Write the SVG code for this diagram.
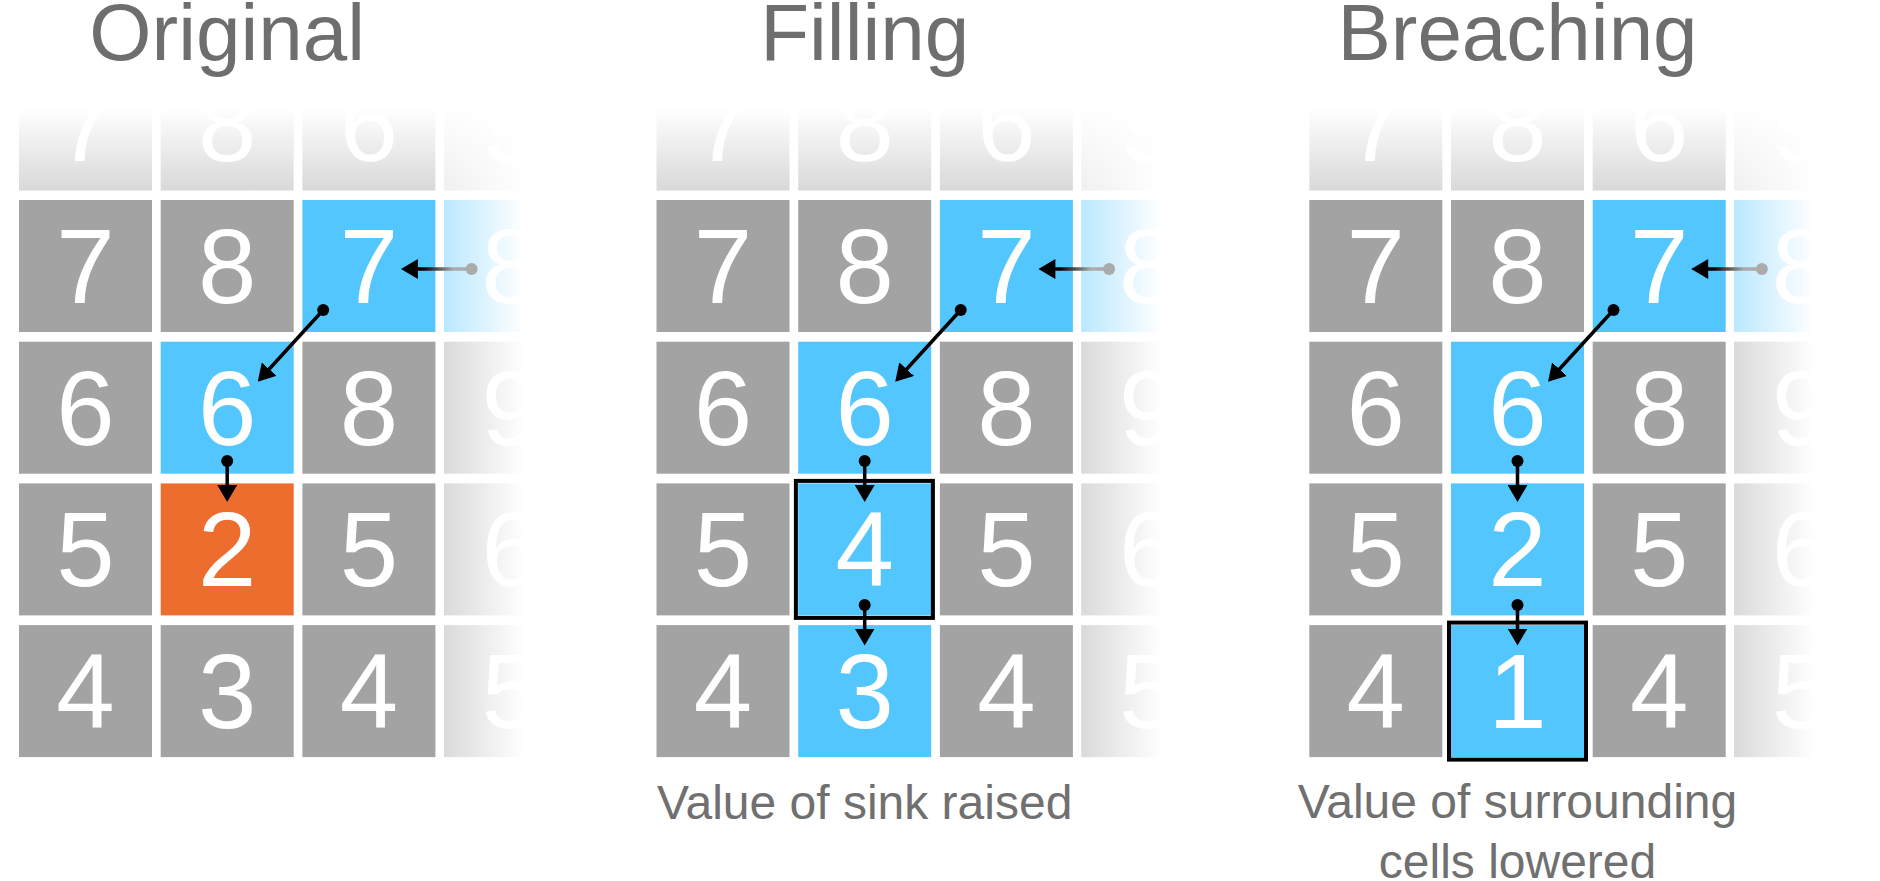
<svg xmlns="http://www.w3.org/2000/svg" width="1880" height="881" viewBox="0 0 1880 881">
<defs>
<style>
.g{fill:#a3a3a3}.b{fill:#54c6fe}.o{fill:#ec6d2e}
.cell text{font-family:"Liberation Sans",Arial,sans-serif;font-size:105px;fill:#fff;text-anchor:middle}
.title{font-family:"Liberation Sans",Arial,sans-serif;font-size:80px;fill:#6e6e6e;text-anchor:middle}
.cap{font-family:"Liberation Sans",Arial,sans-serif;font-size:48px;fill:#707070;text-anchor:middle}
.ln{stroke:#000;stroke-width:3.5;fill:none;marker-end:url(#ah)}
.dot{fill:#000}
.box{fill:none;stroke:#000;stroke-width:4}
</style>
<marker id="ah" viewBox="0 0 17 20" refX="7" refY="10" markerWidth="17" markerHeight="20" markerUnits="userSpaceOnUse" orient="auto"><path d="M0,0 L17,10 L0,20 Z" fill="#000"/></marker>
<linearGradient id="fadeTop" x1="0" y1="0" x2="0" y2="1"><stop offset="0" stop-color="#fff" stop-opacity="1"/><stop offset="0.38" stop-color="#fff" stop-opacity="1"/><stop offset="1" stop-color="#fff" stop-opacity="0.58"/></linearGradient>
<linearGradient id="fadeRight" x1="0" y1="0" x2="1" y2="0"><stop offset="0" stop-color="#fff" stop-opacity="0.6"/><stop offset="0.55" stop-color="#fff" stop-opacity="1"/><stop offset="1" stop-color="#fff" stop-opacity="1"/></linearGradient>
<linearGradient id="hline" x1="0" y1="0" x2="1" y2="0"><stop offset="0" stop-color="#000"/><stop offset="0.2" stop-color="#000"/><stop offset="0.7" stop-color="#ababab"/><stop offset="1" stop-color="#ababab"/></linearGradient>
</defs>
<rect width="1880" height="881" fill="#fff"/>

<g id="panel-original" transform="translate(19,0)">
<g id="p1-r0c0" class="cell"><rect class="g" x="0" y="58.3" width="133" height="132"/><text x="66.5" y="161.3">7</text></g>
<g id="p1-r0c1" class="cell"><rect class="g" x="141.7" y="58.3" width="133" height="132"/><text x="208.2" y="161.3">8</text></g>
<g id="p1-r0c2" class="cell"><rect class="g" x="283.4" y="58.3" width="133" height="132"/><text x="349.9" y="161.3">6</text></g>
<g id="p1-r0c3" class="cell"><rect class="g" x="425.1" y="58.3" width="133" height="132"/><text x="491.6" y="161.3">9</text></g>
<g id="p1-r1c0" class="cell"><rect class="g" x="0" y="200" width="133" height="132"/><text x="66.5" y="303">7</text></g>
<g id="p1-r1c1" class="cell"><rect class="g" x="141.7" y="200" width="133" height="132"/><text x="208.2" y="303">8</text></g>
<g id="p1-r1c2" class="cell"><rect class="b" x="283.4" y="200" width="133" height="132"/><text x="349.9" y="303">7</text></g>
<g id="p1-r1c3" class="cell"><rect class="b" x="425.1" y="200" width="133" height="132"/><text x="491.6" y="303">8</text></g>
<g id="p1-r2c0" class="cell"><rect class="g" x="0" y="341.7" width="133" height="132"/><text x="66.5" y="444.7">6</text></g>
<g id="p1-r2c1" class="cell"><rect class="b" x="141.7" y="341.7" width="133" height="132"/><text x="208.2" y="444.7">6</text></g>
<g id="p1-r2c2" class="cell"><rect class="g" x="283.4" y="341.7" width="133" height="132"/><text x="349.9" y="444.7">8</text></g>
<g id="p1-r2c3" class="cell"><rect class="g" x="425.1" y="341.7" width="133" height="132"/><text x="491.6" y="444.7">9</text></g>
<g id="p1-r3c0" class="cell"><rect class="g" x="0" y="483.4" width="133" height="132"/><text x="66.5" y="586.4">5</text></g>
<g id="p1-r3c1" class="cell"><rect class="o" x="141.7" y="483.4" width="133" height="132"/><text x="208.2" y="586.4">2</text></g>
<g id="p1-r3c2" class="cell"><rect class="g" x="283.4" y="483.4" width="133" height="132"/><text x="349.9" y="586.4">5</text></g>
<g id="p1-r3c3" class="cell"><rect class="g" x="425.1" y="483.4" width="133" height="132"/><text x="491.6" y="586.4">6</text></g>
<g id="p1-r4c0" class="cell"><rect class="g" x="0" y="625.1" width="133" height="132"/><text x="66.5" y="728.1">4</text></g>
<g id="p1-r4c1" class="cell"><rect class="g" x="141.7" y="625.1" width="133" height="132"/><text x="208.2" y="728.1">3</text></g>
<g id="p1-r4c2" class="cell"><rect class="g" x="283.4" y="625.1" width="133" height="132"/><text x="349.9" y="728.1">4</text></g>
<g id="p1-r4c3" class="cell"><rect class="g" x="425.1" y="625.1" width="133" height="132"/><text x="491.6" y="728.1">5</text></g>
<rect x="-5" y="58" width="578" height="132.5" fill="url(#fadeTop)"/>
<rect x="425.1" y="58" width="145" height="702" fill="url(#fadeRight)"/>
</g>

<g id="panel-filling" transform="translate(656.5,0)">
<g id="p2-r0c0" class="cell"><rect class="g" x="0" y="58.3" width="133" height="132"/><text x="66.5" y="161.3">7</text></g>
<g id="p2-r0c1" class="cell"><rect class="g" x="141.7" y="58.3" width="133" height="132"/><text x="208.2" y="161.3">8</text></g>
<g id="p2-r0c2" class="cell"><rect class="g" x="283.4" y="58.3" width="133" height="132"/><text x="349.9" y="161.3">6</text></g>
<g id="p2-r0c3" class="cell"><rect class="g" x="425.1" y="58.3" width="133" height="132"/><text x="491.6" y="161.3">9</text></g>
<g id="p2-r1c0" class="cell"><rect class="g" x="0" y="200" width="133" height="132"/><text x="66.5" y="303">7</text></g>
<g id="p2-r1c1" class="cell"><rect class="g" x="141.7" y="200" width="133" height="132"/><text x="208.2" y="303">8</text></g>
<g id="p2-r1c2" class="cell"><rect class="b" x="283.4" y="200" width="133" height="132"/><text x="349.9" y="303">7</text></g>
<g id="p2-r1c3" class="cell"><rect class="b" x="425.1" y="200" width="133" height="132"/><text x="491.6" y="303">8</text></g>
<g id="p2-r2c0" class="cell"><rect class="g" x="0" y="341.7" width="133" height="132"/><text x="66.5" y="444.7">6</text></g>
<g id="p2-r2c1" class="cell"><rect class="b" x="141.7" y="341.7" width="133" height="132"/><text x="208.2" y="444.7">6</text></g>
<g id="p2-r2c2" class="cell"><rect class="g" x="283.4" y="341.7" width="133" height="132"/><text x="349.9" y="444.7">8</text></g>
<g id="p2-r2c3" class="cell"><rect class="g" x="425.1" y="341.7" width="133" height="132"/><text x="491.6" y="444.7">9</text></g>
<g id="p2-r3c0" class="cell"><rect class="g" x="0" y="483.4" width="133" height="132"/><text x="66.5" y="586.4">5</text></g>
<g id="p2-r3c1" class="cell"><rect class="b" x="141.7" y="483.4" width="133" height="132"/><text x="208.2" y="586.4">4</text></g>
<g id="p2-r3c2" class="cell"><rect class="g" x="283.4" y="483.4" width="133" height="132"/><text x="349.9" y="586.4">5</text></g>
<g id="p2-r3c3" class="cell"><rect class="g" x="425.1" y="483.4" width="133" height="132"/><text x="491.6" y="586.4">6</text></g>
<g id="p2-r4c0" class="cell"><rect class="g" x="0" y="625.1" width="133" height="132"/><text x="66.5" y="728.1">4</text></g>
<g id="p2-r4c1" class="cell"><rect class="b" x="141.7" y="625.1" width="133" height="132"/><text x="208.2" y="728.1">3</text></g>
<g id="p2-r4c2" class="cell"><rect class="g" x="283.4" y="625.1" width="133" height="132"/><text x="349.9" y="728.1">4</text></g>
<g id="p2-r4c3" class="cell"><rect class="g" x="425.1" y="625.1" width="133" height="132"/><text x="491.6" y="728.1">5</text></g>
<rect x="-5" y="58" width="578" height="132.5" fill="url(#fadeTop)"/>
<rect x="425.1" y="58" width="145" height="702" fill="url(#fadeRight)"/>
<rect id="p2-highlight" class="box" x="139.4" y="480.9" width="137" height="137"/>
<text class="cap" x="208.2" y="819">Value of sink raised</text>
</g>

<g id="panel-breaching" transform="translate(1309.3,0)">
<g id="p3-r0c0" class="cell"><rect class="g" x="0" y="58.3" width="133" height="132"/><text x="66.5" y="161.3">7</text></g>
<g id="p3-r0c1" class="cell"><rect class="g" x="141.7" y="58.3" width="133" height="132"/><text x="208.2" y="161.3">8</text></g>
<g id="p3-r0c2" class="cell"><rect class="g" x="283.4" y="58.3" width="133" height="132"/><text x="349.9" y="161.3">6</text></g>
<g id="p3-r0c3" class="cell"><rect class="g" x="425.1" y="58.3" width="133" height="132"/><text x="491.6" y="161.3">9</text></g>
<g id="p3-r1c0" class="cell"><rect class="g" x="0" y="200" width="133" height="132"/><text x="66.5" y="303">7</text></g>
<g id="p3-r1c1" class="cell"><rect class="g" x="141.7" y="200" width="133" height="132"/><text x="208.2" y="303">8</text></g>
<g id="p3-r1c2" class="cell"><rect class="b" x="283.4" y="200" width="133" height="132"/><text x="349.9" y="303">7</text></g>
<g id="p3-r1c3" class="cell"><rect class="b" x="425.1" y="200" width="133" height="132"/><text x="491.6" y="303">8</text></g>
<g id="p3-r2c0" class="cell"><rect class="g" x="0" y="341.7" width="133" height="132"/><text x="66.5" y="444.7">6</text></g>
<g id="p3-r2c1" class="cell"><rect class="b" x="141.7" y="341.7" width="133" height="132"/><text x="208.2" y="444.7">6</text></g>
<g id="p3-r2c2" class="cell"><rect class="g" x="283.4" y="341.7" width="133" height="132"/><text x="349.9" y="444.7">8</text></g>
<g id="p3-r2c3" class="cell"><rect class="g" x="425.1" y="341.7" width="133" height="132"/><text x="491.6" y="444.7">9</text></g>
<g id="p3-r3c0" class="cell"><rect class="g" x="0" y="483.4" width="133" height="132"/><text x="66.5" y="586.4">5</text></g>
<g id="p3-r3c1" class="cell"><rect class="b" x="141.7" y="483.4" width="133" height="132"/><text x="208.2" y="586.4">2</text></g>
<g id="p3-r3c2" class="cell"><rect class="g" x="283.4" y="483.4" width="133" height="132"/><text x="349.9" y="586.4">5</text></g>
<g id="p3-r3c3" class="cell"><rect class="g" x="425.1" y="483.4" width="133" height="132"/><text x="491.6" y="586.4">6</text></g>
<g id="p3-r4c0" class="cell"><rect class="g" x="0" y="625.1" width="133" height="132"/><text x="66.5" y="728.1">4</text></g>
<g id="p3-r4c1" class="cell"><rect class="b" x="141.7" y="625.1" width="133" height="132"/><text x="208.2" y="728.1">1</text></g>
<g id="p3-r4c2" class="cell"><rect class="g" x="283.4" y="625.1" width="133" height="132"/><text x="349.9" y="728.1">4</text></g>
<g id="p3-r4c3" class="cell"><rect class="g" x="425.1" y="625.1" width="133" height="132"/><text x="491.6" y="728.1">5</text></g>
<rect x="-5" y="58" width="578" height="132.5" fill="url(#fadeTop)"/>
<rect x="425.1" y="58" width="145" height="702" fill="url(#fadeRight)"/>
<rect id="p3-highlight" class="box" x="139.7" y="622.6" width="137" height="137"/>
<text class="cap" x="208.2" y="818.3">Value of surrounding</text>
<text class="cap" x="208.2" y="878">cells lowered</text>
</g>

<g id="titles">
<text class="title" x="227.2" y="60">Original</text>
<text class="title" x="864.7" y="60">Filling</text>
<text class="title" x="1517.5" y="60">Breaching</text>
</g>

<g id="connectors">
<g transform="translate(19,0)">
<rect x="391.9" y="267.25" width="60.7" height="3.5" fill="url(#hline)"/>
<path d="M381.9,269 L398.9,259 L398.9,279 Z" fill="#000"/>
<circle cx="452.6" cy="269" r="6" fill="#ababab"/>
<line class="ln" x1="304.2" y1="310" x2="245.45" y2="374.3"/><circle class="dot" cx="304.2" cy="310" r="6"/>
<line class="ln" x1="208.2" y1="461" x2="208.2" y2="492"/><circle class="dot" cx="208.2" cy="461" r="6"/>
</g>
<g transform="translate(656.5,0)">
<rect x="391.9" y="267.25" width="60.7" height="3.5" fill="url(#hline)"/>
<path d="M381.9,269 L398.9,259 L398.9,279 Z" fill="#000"/>
<circle cx="452.6" cy="269" r="6" fill="#ababab"/>
<line class="ln" x1="304.2" y1="310" x2="245.45" y2="374.3"/><circle class="dot" cx="304.2" cy="310" r="6"/>
<line class="ln" x1="208.2" y1="461" x2="208.2" y2="492"/><circle class="dot" cx="208.2" cy="461" r="6"/>
<line class="ln" x1="208.2" y1="605" x2="208.2" y2="635.5"/><circle class="dot" cx="208.2" cy="605" r="6"/>
</g>
<g transform="translate(1309.3,0)">
<rect x="391.9" y="267.25" width="60.7" height="3.5" fill="url(#hline)"/>
<path d="M381.9,269 L398.9,259 L398.9,279 Z" fill="#000"/>
<circle cx="452.6" cy="269" r="6" fill="#ababab"/>
<line class="ln" x1="304.2" y1="310" x2="245.45" y2="374.3"/><circle class="dot" cx="304.2" cy="310" r="6"/>
<line class="ln" x1="208.2" y1="461" x2="208.2" y2="492"/><circle class="dot" cx="208.2" cy="461" r="6"/>
<line class="ln" x1="208.2" y1="605" x2="208.2" y2="635.5"/><circle class="dot" cx="208.2" cy="605" r="6"/>
</g>
</g>
</svg>
